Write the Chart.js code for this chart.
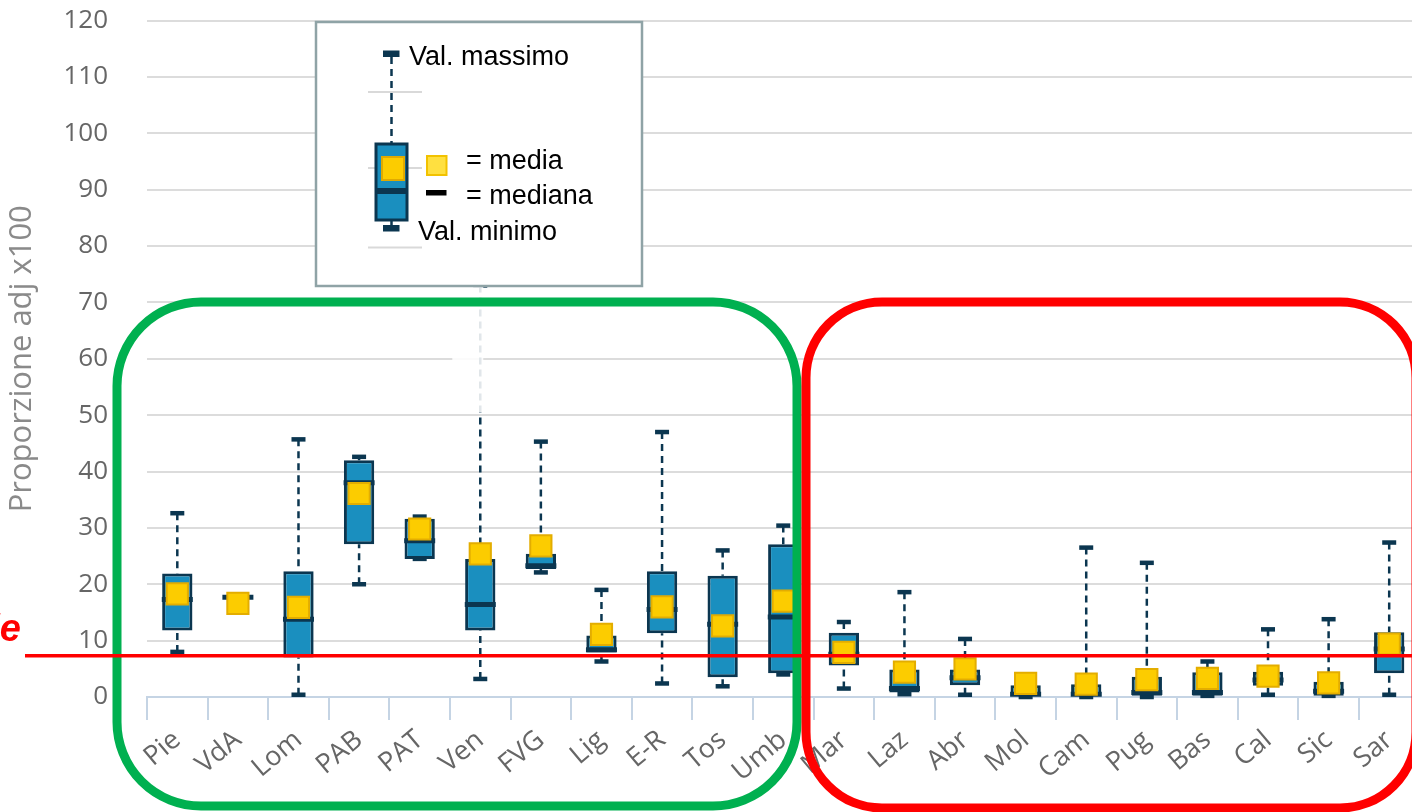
<!DOCTYPE html>
<html>
<head>
<meta charset="utf-8">
<script src="https://cdn.jsdelivr.net/npm/chart.js@4.4.1/dist/chart.umd.min.js"></script>
<style>
  html, body { margin: 0; padding: 0; background: #fff; overflow: hidden; }
  #wrap { position: relative; width: 1440px; height: 812px; }
  canvas { display: block; }
</style>
</head>
<body>
<div id="wrap"><canvas id="c" width="1440" height="812"></canvas></div>
<script>
// Regioni
const categories = ['Pie','VdA','Lom','PAB','PAT','Ven','FVG','Lig','E-R','Tos','Umb',
                    'Mar','Laz','Abr','Mol','Cam','Pug','Bas','Cal','Sic','Sar'];
// Valore minimo, primo quartile, mediana, terzo quartile, valore massimo, media
const valMin  = [8.0, 17.7, 0.4, 20.0, 24.5, 3.2, 22.1, 6.3, 2.4, 1.9, 4.0,
                 1.5, 0.5, 0.4, 0.0, 0.0, 0.0, 0.2, 0.4, 0.2, 0.4];
const q1      = [11.8, 17.7, 7.0, 27.1, 24.5, 11.8, 22.7, 7.9, 11.3, 3.5, 4.2,
                 5.6, 0.8, 2.1, 0.0, 0.0, 0.2, 0.2, 2.0, 0.2, 4.2];
const mediana = [17.3, 17.7, 13.8, 38.0, 27.7, 16.4, 23.3, 8.4, 15.5, 12.9, 14.2,
                 7.6, 1.5, 3.4, 0.5, 0.5, 0.8, 0.8, 3.0, 1.0, 8.5];
const q3      = [21.9, 17.7, 22.3, 42.0, 31.6, 24.5, 25.4, 10.9, 22.3, 21.5, 27.1,
                 11.4, 4.9, 4.9, 2.1, 2.25, 3.6, 4.4, 4.5, 2.7, 11.5];
const valMax  = [32.6, 17.7, 45.7, 42.6, 32.0, 73.0, 45.3, 19.0, 47.0, 26.0, 30.4,
                 13.3, 18.6, 10.3, 2.1, 26.5, 23.8, 6.3, 12.0, 13.8, 27.4];
const media   = [18.3, 16.6, 15.9, 36.1, 29.8, 25.4, 26.8, 11.1, 16.0, 12.6, 17.0,
                 7.9, 4.4, 5.0, 2.4, 2.3, 3.1, 3.3, 3.7, 2.5, 9.4];
// Asse Y
const yTicks = [0, 10, 20, 30, 40, 50, 60, 70, 80, 90, 100, 110, 120];
// Riferimento nazionale
const rifNazionale = 7.3;

const DARK = '#0b3650';
const BLUE = '#1a8fbf';

// Baffi tratteggiati e cappucci (min / max)
const whiskerPlugin = {
  id: 'whiskers',
  beforeDatasetsDraw(chart) {
    const { ctx, scales: { x, y } } = chart;
    ctx.save();
    categories.forEach((c, i) => {
      const cx = x.getPixelForValue(i);
      const yMax = y.getPixelForValue(valMax[i]);
      const yMin = y.getPixelForValue(valMin[i]);
      const yQ3 = y.getPixelForValue(q3[i]);
      const yQ1 = y.getPixelForValue(q1[i]);
      ctx.strokeStyle = DARK;
      ctx.lineWidth = 2.5;
      ctx.setLineDash([7, 5]);
      ctx.beginPath();
      ctx.moveTo(cx, yMax); ctx.lineTo(cx, yQ3);
      ctx.moveTo(cx, yMin); ctx.lineTo(cx, yQ1);
      ctx.stroke();
      ctx.setLineDash([]);
      ctx.fillStyle = DARK;
      ctx.fillRect(cx - 7, yMax - 2.25, 14, 4.5);
      ctx.fillRect(cx - 7, yMin - 2.25, 14, 4.5);
    });
    ctx.restore();
  }
};

function roundRect(ctx, x0, y0, x1, y1, r) {
  ctx.beginPath();
  ctx.moveTo(x0 + r, y0);
  ctx.lineTo(x1 - r, y0);
  ctx.arcTo(x1, y0, x1, y0 + r, r);
  ctx.lineTo(x1, y1 - r);
  ctx.arcTo(x1, y1, x1 - r, y1, r);
  ctx.lineTo(x0 + r, y1);
  ctx.arcTo(x0, y1, x0, y1 - r, r);
  ctx.lineTo(x0, y0 + r);
  ctx.arcTo(x0, y0, x0 + r, y0, r);
  ctx.closePath();
}

// Legenda illustrata, riquadri dei gruppi e linea di riferimento
const overlayPlugin = {
  id: 'overlay',
  afterDraw(chart) {
    const { ctx, scales: { x, y } } = chart;
    ctx.save();

    // velatura sul tratto alto del baffo di Ven
    const ven = x.getPixelForValue(5);
    ctx.fillStyle = 'rgba(255,255,255,0.88)';
    ctx.fillRect(ven - 28, 286, 31, y.getPixelForValue(50.5) - 286);

    // riquadro legenda
    ctx.fillStyle = '#ffffff';
    ctx.fillRect(316, 22, 326, 264);
    ctx.strokeStyle = '#8fa3a6';
    ctx.lineWidth = 2.5;
    ctx.strokeRect(316, 22, 326, 264);

    // linee guida del box di esempio
    ctx.strokeStyle = '#d9d9d9';
    ctx.lineWidth = 2;
    [92, 168, 247.5].forEach(gy => {
      ctx.beginPath(); ctx.moveTo(368, gy); ctx.lineTo(422, gy); ctx.stroke();
    });
    // box di esempio
    ctx.strokeStyle = DARK;
    ctx.lineWidth = 2.5;
    ctx.setLineDash([7, 5]);
    ctx.beginPath(); ctx.moveTo(391.5, 57); ctx.lineTo(391.5, 144); ctx.stroke();
    ctx.setLineDash([]);
    ctx.beginPath(); ctx.moveTo(391.5, 220); ctx.lineTo(391.5, 226); ctx.stroke();
    ctx.fillStyle = DARK;
    ctx.fillRect(383, 50.5, 16.5, 6.5);
    ctx.fillRect(383, 225, 16.5, 6.5);
    ctx.fillStyle = BLUE;
    ctx.lineWidth = 3;
    ctx.fillRect(376, 144, 31, 76);
    ctx.strokeRect(376, 144, 31, 76);
    ctx.fillStyle = DARK;
    ctx.fillRect(377, 188, 29, 6);
    ctx.fillStyle = '#fccc00';
    ctx.strokeStyle = '#e0aa00';
    ctx.lineWidth = 2;
    ctx.fillRect(382, 157, 22, 23);
    ctx.strokeRect(382, 157, 22, 23);
    // simboli
    ctx.fillStyle = '#ffe040';
    ctx.strokeStyle = '#f2c200';
    ctx.fillRect(427, 156, 19.5, 19);
    ctx.strokeRect(427, 156, 19.5, 19);
    ctx.fillStyle = '#000';
    ctx.fillRect(426, 190, 20.5, 5.5);
    // testi
    ctx.fillStyle = '#000';
    ctx.font = '27px "Liberation Sans", Arial, sans-serif';
    ctx.textBaseline = 'alphabetic';
    ctx.textAlign = 'left';
    ctx.fillText('Val. massimo', 409, 65);
    ctx.fillText('= media', 466, 169);
    ctx.fillText('= mediana', 466, 203.5);
    ctx.fillText('Val. minimo', 418, 240);

    // riquadro verde (Nord-Centro) e rosso (Centro-Sud)
    ctx.lineWidth = 9;
    ctx.strokeStyle = '#00b050';
    roundRect(ctx, 117, 302, 797, 806, 84);
    ctx.stroke();
    ctx.strokeStyle = '#ff0000';
    roundRect(ctx, 806, 302, 1416, 808, 76);
    ctx.stroke();

    // linea di riferimento
    const yr = y.getPixelForValue(rifNazionale);
    ctx.strokeStyle = '#ff0000';
    ctx.lineWidth = 3.5;
    ctx.beginPath(); ctx.moveTo(25, yr); ctx.lineTo(chart.width, yr); ctx.stroke();
    ctx.fillStyle = '#ff0000';
    ctx.font = 'italic bold 38px "Liberation Sans", Arial, sans-serif';
    ctx.textAlign = 'right';
    ctx.fillText('Media nazionale', 21, yr - 15);
    ctx.restore();
  }
};

const ctx = document.getElementById('c').getContext('2d');
new Chart(ctx, {
  type: 'bar',
  data: {
    labels: categories,
    datasets: [
      {
        type: 'line',
        label: 'media',
        data: media,
        showLine: false,
        pointStyle: 'rect',
        pointRadius: 15,
        pointBackgroundColor: '#fccc00',
        pointBorderColor: '#e3ad00',
        pointBorderWidth: 2,
        order: 0
      },
      {
        type: 'line',
        label: 'mediana',
        data: mediana,
        showLine: false,
        pointStyle: 'line',
        pointRadius: 15.5,
        pointBorderColor: DARK,
        pointBorderWidth: 5,
        order: 1
      },
      {
        type: 'bar',
        label: 'box',
        data: categories.map((c, i) => [q1[i], q3[i]]),
        backgroundColor: BLUE,
        borderColor: DARK,
        borderWidth: 3,
        borderSkipped: false,
        barPercentage: 0.5,
        categoryPercentage: 1,
        order: 2
      }
    ]
  },
  options: {
    responsive: false,
    animation: false,
    events: [],
    devicePixelRatio: 1,
    layout: { padding: { top: 20.5, right: 20, left: 0, bottom: 0 } },
    plugins: { legend: { display: false }, tooltip: { enabled: false } },
    scales: {
      x: {
        offset: true,
        afterFit(s) { s.height = 115; s.paddingLeft = 0; s.paddingRight = 0; },
        grid: { drawOnChartArea: false, drawTicks: true, tickLength: 23, color: '#c5d4e4', lineWidth: 2, offset: true },
        border: { display: true, color: '#c5d4e4', width: 2 },
        ticks: {
          maxRotation: 40, minRotation: 40, padding: 4, autoSkip: false,
          color: '#666666', font: { family: '"Open Sans", sans-serif', size: 27 }
        }
      },
      y: {
        min: 0, max: 120,
        afterFit(s) { s.width = 147; s.paddingTop = 0; s.paddingBottom = 0; },
        afterBuildTicks(s) { s.ticks = yTicks.map(v => ({ value: v })); },
        grid: {
          drawTicks: false, lineWidth: 2,
          color: c => (c.tick && c.tick.value === 0) ? 'rgba(0,0,0,0)' : '#dcdcdc'
        },
        border: { display: false },
        ticks: {
          padding: 39, color: '#666666',
          font: { family: '"Open Sans", sans-serif', size: 26 }
        },
        title: {
          display: true, text: 'Proporzione adj x100', color: '#8a8a8a',
          padding: { top: 4, bottom: 0 },
          font: { family: '"Open Sans", sans-serif', size: 31 }
        }
      }
    }
  },
  plugins: [whiskerPlugin, overlayPlugin]
});
</script>
</body>
</html>
